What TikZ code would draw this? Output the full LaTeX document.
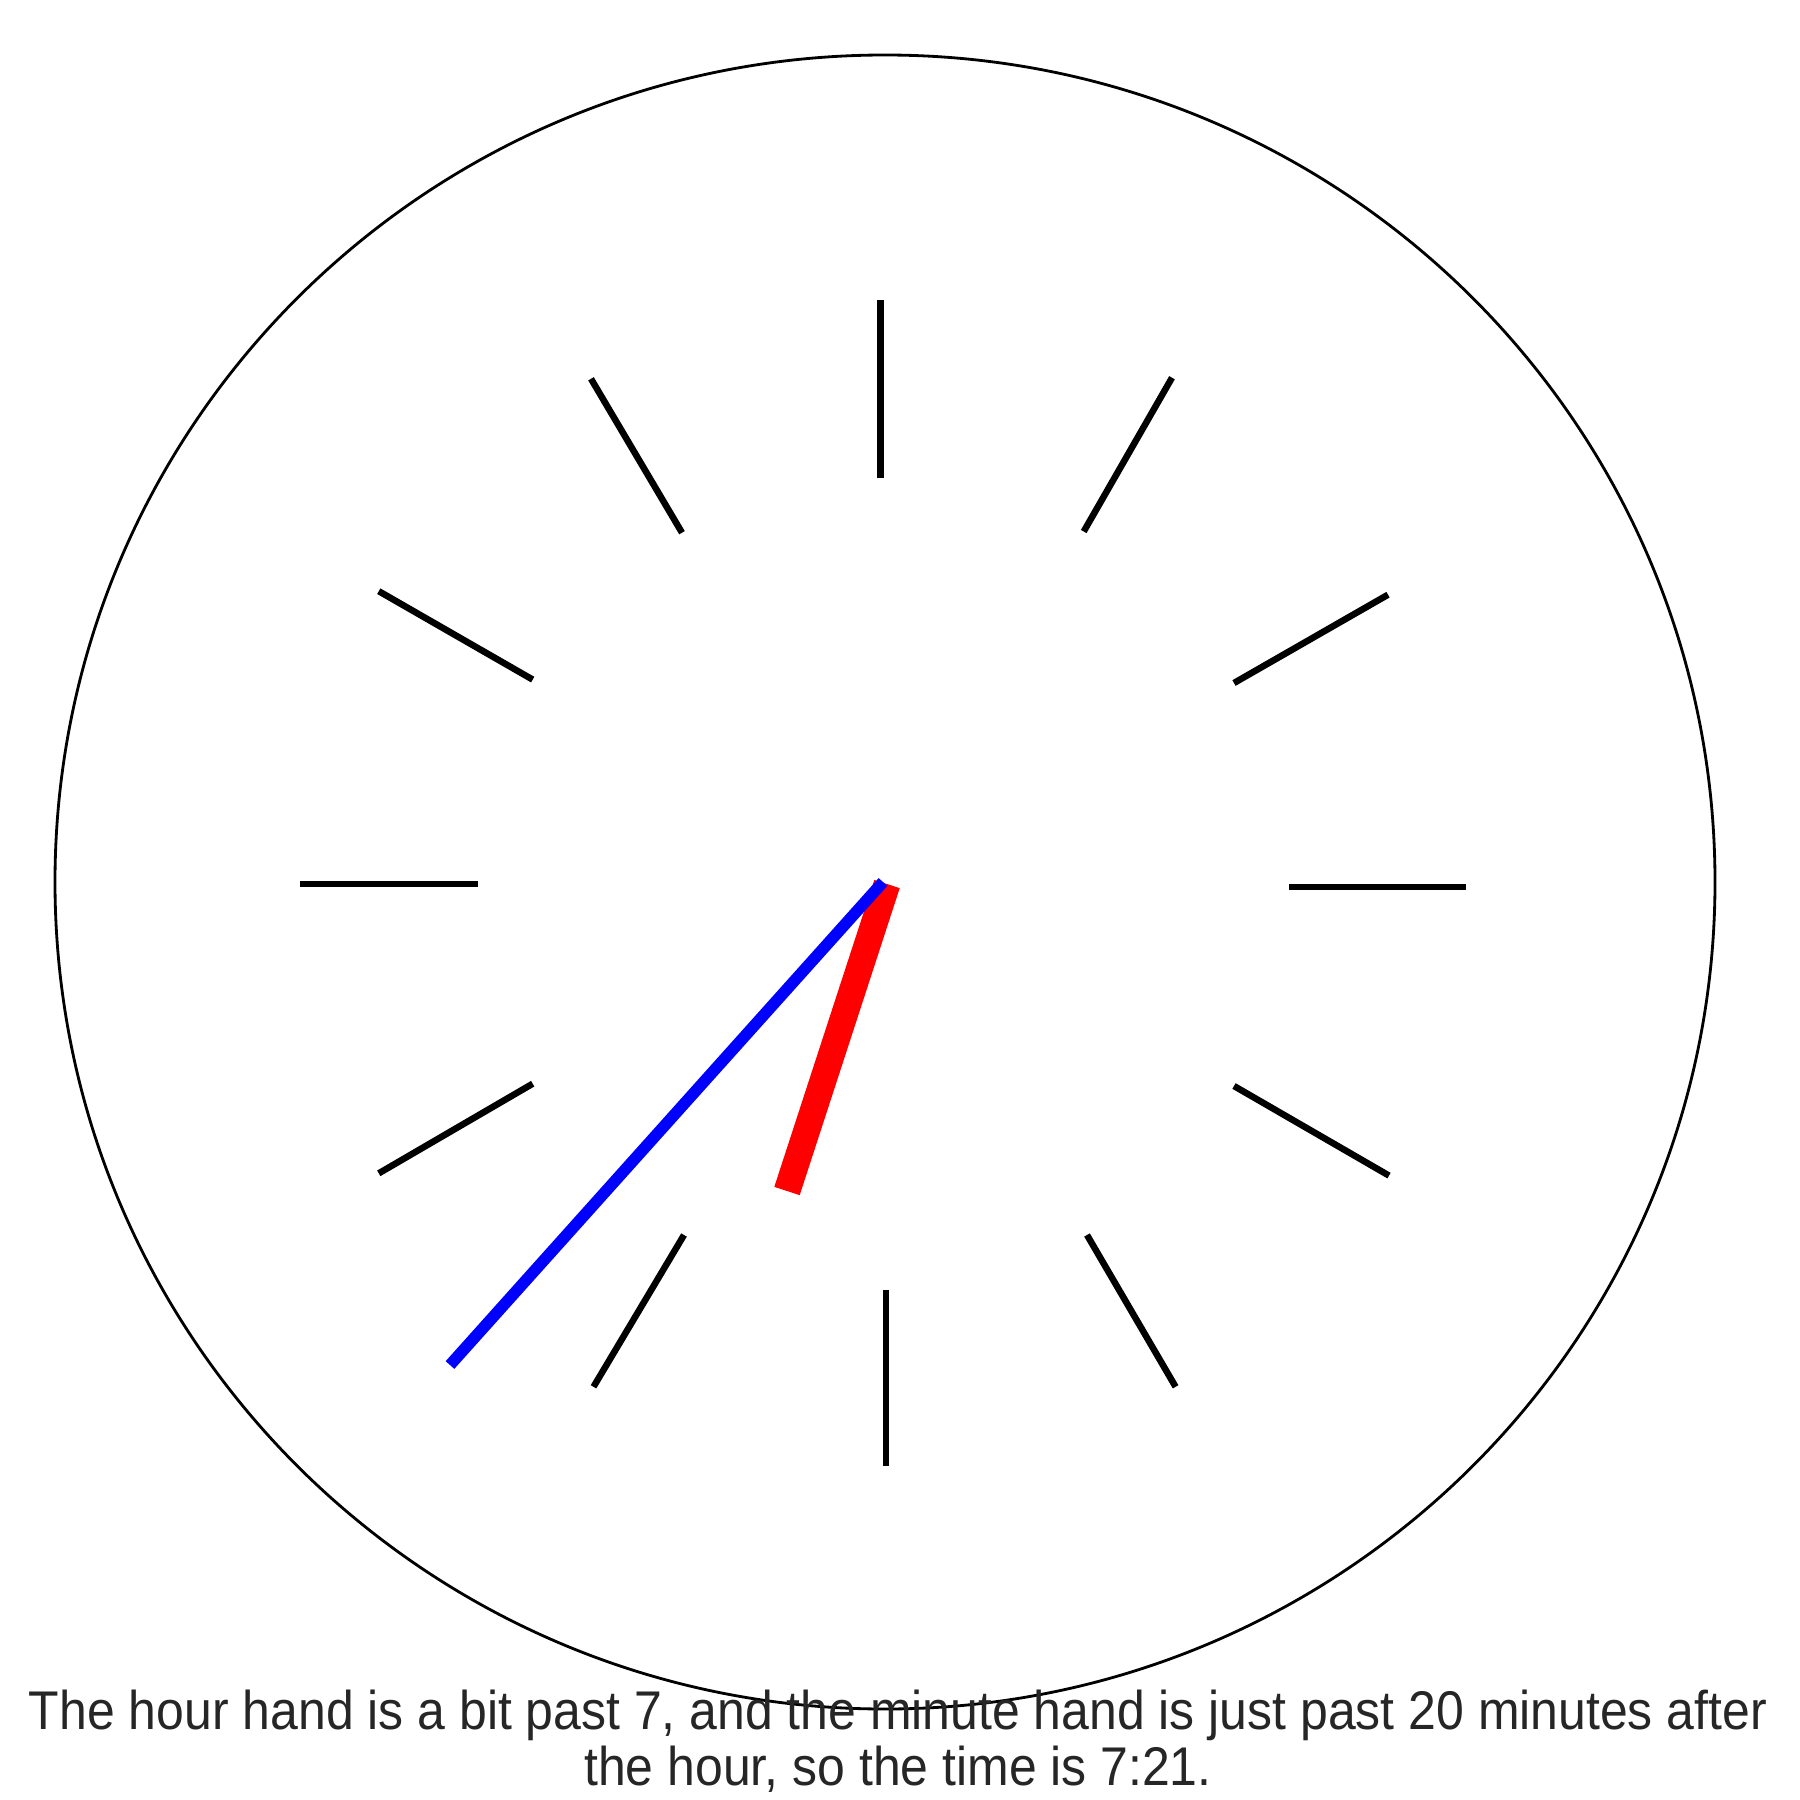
\documentclass[tikz,border=0pt]{standalone}
\usepackage{fontspec}
\setmainfont{Liberation Sans}
\definecolor{chuxam}{HTML}{262626}
\begin{document}
\begin{tikzpicture}[x=0.01cm, y=-0.01cm, line join=round,
		vach/.style={black, line width=1.85pt},
		kimgio/.style={red, line width=7.6pt},
		kimphut/.style={blue, line width=3.3pt}]
			\useasboundingbox (0,0) rectangle (1800,1800);
			
			% Mặt đồng hồ
			\coordinate (O) at (884,884);
			\draw[black, line width=0.8pt] (885,882) ellipse [x radius=830, y radius=827];
			
			% --- Các vạch chia giờ ---
			\draw[vach] (880.7,300) -- (880.7,477.6);
			\draw[vach] (1172,377.7) -- (1083.7,531.5);
			\draw[vach] (1388,594.7) -- (1234,683);
			\draw[vach] (1466,887) -- (1289,887);
			\draw[vach] (1389,1175.6) -- (1234,1086);
			\draw[vach] (1175.6,1386.8) -- (1087,1235);
			\draw[vach] (886.2,1466) -- (886.2,1290);
			\draw[vach] (593.5,1386.8) -- (684,1235);
			\draw[vach] (378.8,1173.3) -- (532.7,1083.7);
			\draw[vach] (299.6,884) -- (477.6,884);
			\draw[vach] (378.8,591.2) -- (532.7,679.6);
			\draw[vach] (591,378.8) -- (682,532.7);
			
			% --- Kim giờ và kim phút ---
			\coordinate (TamDo) at (887,884);
			\coordinate (TamXanh) at (883,882);
			\coordinate (DauGio) at (787,1191);
			\coordinate (DauPhut) at (450,1365);
			\draw[kimgio] (TamDo) -- (DauGio);
			\draw[kimphut] (TamXanh) -- (DauPhut);
			
			% --- Lời giải thích ---
			\node[anchor=base, inner sep=0, text=chuxam] (loigiai) at (898,1785)
			{\resizebox{17.37cm}{\height}{\fontsize{15.5pt}{14.8pt}\selectfont\begin{tabular}[b]{@{}c@{}}The hour hand is a bit past 7, and the minute hand is just past 20 minutes after\\the hour, so the time is 7:21.\end{tabular}}};
			
		\end{tikzpicture}
\end{document}
